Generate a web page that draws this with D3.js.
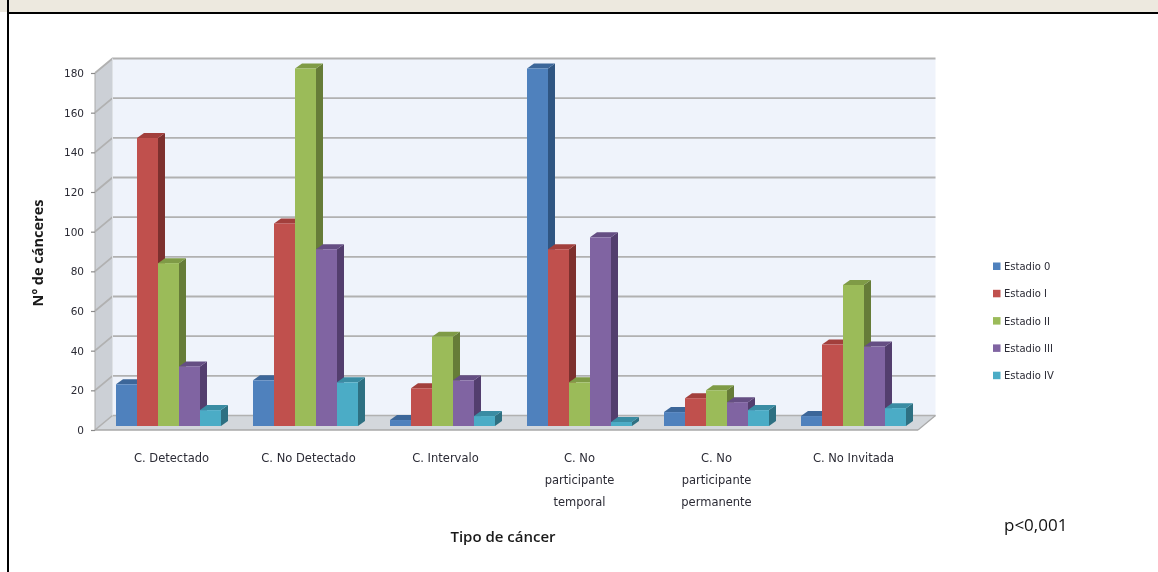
<!DOCTYPE html>
<html><head><meta charset="utf-8">
<script src="https://cdn.jsdelivr.net/npm/d3@7"></script>
<style>html,body{margin:0;padding:0;background:#fff;overflow:hidden}svg{display:block}
.soft{filter:blur(0.35px)}</style></head><body>
<script>
const categories=["C. Detectado","C. No Detectado","C. Intervalo","C. No participante temporal","C. No participante permanente","C. No Invitada"];
const categoryLines=[["C. Detectado"],["C. No Detectado"],["C. Intervalo"],["C. No","participante","temporal"],["C. No","participante","permanente"],["C. No Invitada"]];
const seriesNames=["Estadio 0","Estadio I","Estadio II","Estadio III","Estadio IV"];
const estadio0=[21,23,3,180,7,5];
const estadioI=[145,102,19,89,14,41];
const estadioII=[82,180,45,22,18,71];
const estadioIII=[30,89,23,95,12,40];
const estadioIV=[8,22,5,2,8,9];
const seriesValues=[estadio0,estadioI,estadioII,estadioIII,estadioIV];
const yTicks=[0,20,40,60,80,100,120,140,160,180];
const frontColors=["#4f81bd","#c0504d","#9bbb59","#8064a2","#4bacc6"];
const topColors=["#3c6699","#a23f3c","#7f9b46","#654e83","#3a8ca3"];
const sideColors=["#2f5582","#7d302e","#667c38","#533e6e","#2e7082"];

const W=1158,H=572;
const svg=d3.select("body").append("svg").attr("width",W).attr("height",H);
// page frame
svg.append("rect").attr("x",0).attr("y",0).attr("width",W).attr("height",12).attr("fill","#ede9df");
svg.append("rect").attr("x",7).attr("y",12).attr("width",W-7).attr("height",2).attr("fill","#000");
svg.append("rect").attr("x",7).attr("y",0).attr("width",2).attr("height",H).attr("fill","#000");

const dx=17.5,dy=-14.5;           // wall depth
const bdx=7,bdy=-5;               // bar depth
const y=d3.scaleLinear().domain([0,180]).range([430,73]);
const xLeft=95,xRight=918;
const yBar=d3.scaleLinear().domain([0,180]).range([426,68.5]);
const x0=d3.scaleBand().domain(categories).range([116,906]).paddingInner(32/137).paddingOuter(0);
const x1=d3.scaleBand().domain(seriesNames).range([0,x0.bandwidth()]);

const chart=svg.append("g").attr("class","soft");
// back wall
chart.append("rect").attr("x",xLeft+dx).attr("y",y(180)+dy).attr("width",xRight-xLeft).attr("height",y(0)-y(180)).attr("fill","#eff3fb");
// left wall
chart.append("polygon").attr("points",[[xLeft,y(0)],[xLeft+dx,y(0)+dy],[xLeft+dx,y(180)+dy],[xLeft,y(180)]].join(" ")).attr("fill","#ccd0d6");
// floor
chart.append("polygon").attr("points",[[xLeft,y(0)],[xRight,y(0)],[xRight+dx,y(0)+dy],[xLeft+dx,y(0)+dy]].join(" ")).attr("fill","#d3d7dc");
// grid
const grid="#b1b1b1";
yTicks.forEach(t=>{
  chart.append("polyline").attr("fill","none").attr("stroke",grid).attr("stroke-width",t===0?1.6:1.8)
   .attr("points",[[xLeft,y(t)],[xLeft+dx,y(t)+dy],[xRight+dx,y(t)+dy]].join(" "));
});
chart.append("line").attr("x1",xLeft).attr("x2",xRight).attr("y1",y(0)).attr("y2",y(0)).attr("stroke","#a9a9a9").attr("stroke-width",1.6);
chart.append("line").attr("x1",xRight).attr("x2",xRight+dx).attr("y1",y(0)).attr("y2",y(0)+dy).attr("stroke","#a9a9a9").attr("stroke-width",1.2);
chart.append("line").attr("x1",xLeft).attr("x2",xLeft).attr("y1",y(0)).attr("y2",y(180)).attr("stroke","#a9a9a9").attr("stroke-width",1);
chart.append("line").attr("x1",xLeft+dx).attr("x2",xLeft+dx).attr("y1",y(0)+dy).attr("y2",y(180)+dy).attr("stroke","#dfe2e6").attr("stroke-width",1);
// y axis ticks and labels
const yAxis=d3.axisLeft(y).tickValues(yTicks).tickSize(4).tickPadding(7);
const yg=chart.append("g").attr("transform",`translate(${xLeft},0)`).call(yAxis);
yg.select(".domain").remove();
yg.selectAll("line").attr("stroke","#8a8a8a").attr("stroke-width",1.2);
yg.selectAll("text").attr("font-family","DejaVu Sans").attr("font-size",10.5).attr("fill","#2b2b35");
// bars
categories.forEach((c,ci)=>{
  const g=chart.append("g");
  seriesNames.forEach((s,si)=>{
    const v=seriesValues[si][ci];
    const xa=x0(c)+x1(s),xb=xa+x1.bandwidth();
    const yt=yBar(v),yb=yBar(0);
    g.append("polygon").attr("fill",sideColors[si]).attr("points",[[xb,yt],[xb+bdx,yt+bdy],[xb+bdx,yb+bdy],[xb,yb]].join(" "));
    g.append("polygon").attr("fill",topColors[si]).attr("points",[[xa,yt],[xa+bdx,yt+bdy],[xb+bdx,yt+bdy],[xb,yt]].join(" "));
    g.append("rect").attr("x",xa).attr("y",yt).attr("width",x1.bandwidth()).attr("height",yb-yt).attr("fill",frontColors[si]);
  });
});
// category labels
categoryLines.forEach((lines,i)=>{
  const cx=x0(categories[i])+x0.bandwidth()/2+ (i<3?3:(i===5?0:0));
  lines.forEach((l,j)=>{
    chart.append("text").attr("x",cx).attr("y",462+j*22).attr("text-anchor","middle")
      .attr("font-family","DejaVu Sans").attr("font-size",11.5).attr("fill","#2b2b35").text(l);
  });
});
// axis titles
chart.append("text").attr("transform","translate(43,253) rotate(-90)").attr("text-anchor","middle")
  .attr("font-family","Open Sans").attr("font-weight",700).attr("font-size",14.5).attr("fill","#1a1a1a").text("Nº de cánceres");
chart.append("text").attr("x",503).attr("y",542).attr("text-anchor","middle")
  .attr("font-family","Open Sans").attr("font-weight",600).attr("font-size",15).attr("fill","#1a1a1a").text("Tipo de cáncer");
// legend
seriesNames.forEach((s,i)=>{
  const ly=266+i*27.3;
  chart.append("rect").attr("x",993).attr("y",ly-3.5).attr("width",7.5).attr("height",7.5).attr("fill",frontColors[i]);
  chart.append("text").attr("x",1004).attr("y",ly+4).attr("font-family","DejaVu Sans").attr("font-size",10).attr("fill","#2b2b35").text(s);
});
svg.append("text").attr("x",1004).attr("y",531).attr("font-family","Open Sans").attr("font-size",17).attr("fill","#111").text("p<0,001");
</script></body></html>
